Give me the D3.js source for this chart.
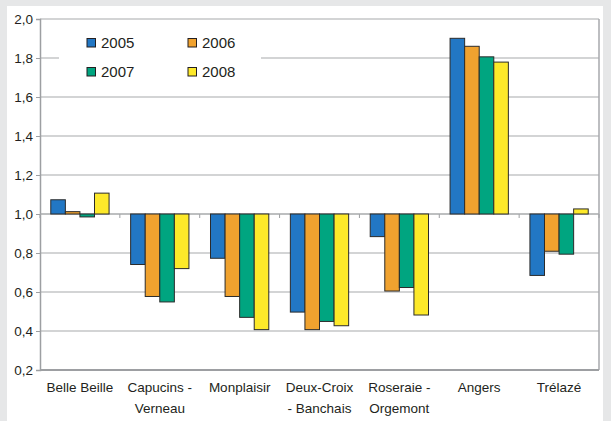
<!DOCTYPE html>
<html>
<head>
<meta charset="utf-8">
<script src="https://cdn.jsdelivr.net/npm/d3@7"></script>
<style>
  body { margin: 0; background: #e6e7e8; }
  svg { display: block; font-family: "Liberation Sans", Arial, sans-serif; }
</style>
</head>
<body>
<div id="chart"></div>
<script>
// quartiers d'Angers, indice par annee (base 1,0)
const categories = [["Belle Beille"], ["Capucins -", "Verneau"], ["Monplaisir"], ["Deux-Croix", "- Banchais"], ["Roseraie -", "Orgemont"], ["Angers"], ["Trélazé"]]
const years = ["2005", "2006", "2007", "2008"]
const colors = ["#2277c4", "#f0a22f", "#00a580", "#fde92a"]

const v2005 = [1.073, 0.741, 0.773, 0.497, 0.884, 1.901, 0.685]
const v2006 = [1.012, 0.577, 0.577, 0.407, 0.605, 1.860, 0.809]
const v2007 = [0.985, 0.549, 0.470, 0.449, 0.623, 1.806, 0.794]
const v2008 = [1.107, 0.720, 0.407, 0.427, 0.482, 1.779, 1.026]
const series = [v2005, v2006, v2007, v2008]

const yTicks = [0.2, 0.4, 0.6, 0.8, 1.0, 1.2, 1.4, 1.6, 1.8, 2.0]
const baseline = 1.0

const width = 611, height = 421
const margin = { top: 19, right: 12, bottom: 51, left: 40 }

const svg = d3.select("#chart").append("svg")
    .attr("width", width)
    .attr("height", height)

// white panel
svg.append("rect")
    .attr("x", 7).attr("y", 6)
    .attr("width", 596).attr("height", height - 6)
    .attr("fill", "#ffffff")

const x = d3.scaleBand()
    .domain(d3.range(categories.length))
    .range([margin.left, width - margin.right])

const xInner = d3.scaleBand()
    .domain(d3.range(years.length))
    .range([0, x.bandwidth()])
    .paddingOuter(0.74)

const y = d3.scaleLinear()
    .domain([0.2, 2.0])
    .range([height - margin.bottom, margin.top])

// gridlines
svg.append("g")
    .selectAll("line")
    .data(yTicks)
    .enter()
    .append("line")
    .attr("x1", margin.left)
    .attr("x2", width - margin.right)
    .attr("y1", d => y(d))
    .attr("y2", d => y(d))
    .attr("stroke", "#a7a9ac")
    .attr("stroke-width", 1.2)

// right border of plot
svg.append("line")
    .attr("x1", width - margin.right).attr("x2", width - margin.right)
    .attr("y1", y(2.0)).attr("y2", y(0.2))
    .attr("stroke", "#a7a9ac").attr("stroke-width", 1.5)

// y axis
const yAxis = d3.axisLeft(y)
    .tickValues(yTicks)
    .tickSize(4)
    .tickPadding(3)
    .tickFormat(d => d3.format(".1f")(d).replace(".", ","))

const gy = svg.append("g")
    .attr("transform", `translate(${margin.left},0)`)
    .call(yAxis)
gy.select(".domain").attr("stroke", "#9d9fa2").attr("stroke-width", 1.5)
gy.selectAll(".tick line").attr("stroke", "#9d9fa2")
gy.selectAll("text").attr("fill", "#231f20").attr("font-size", 13.5)

// bottom border
svg.append("line")
    .attr("x1", margin.left).attr("x2", width - margin.right)
    .attr("y1", y(0.2)).attr("y2", y(0.2))
    .attr("stroke", "#9d9fa2").attr("stroke-width", 2)

// category axis ticks on the 1,0 line
svg.append("g")
    .selectAll("line")
    .data(d3.range(categories.length + 1))
    .enter()
    .append("line")
    .attr("x1", i => i < categories.length ? x(i) : x(i - 1) + x.bandwidth())
    .attr("x2", i => i < categories.length ? x(i) : x(i - 1) + x.bandwidth())
    .attr("y1", y(baseline))
    .attr("y2", y(baseline) + 4)
    .attr("stroke", "#9d9fa2")

// 1,0 line under the bars
svg.append("line")
    .attr("x1", margin.left).attr("x2", width - margin.right)
    .attr("y1", y(baseline)).attr("y2", y(baseline))
    .attr("stroke", "#a7a9ac").attr("stroke-width", 1.2)

// bars
series.forEach((vals, s) => {
    svg.append("g")
        .selectAll("rect")
        .data(vals)
        .enter()
        .append("rect")
        .attr("x", (d, i) => x(i) + xInner(s))
        .attr("width", xInner.bandwidth())
        .attr("y", d => y(Math.max(d, baseline)))
        .attr("height", d => Math.abs(y(d) - y(baseline)))
        .attr("fill", colors[s])
        .attr("stroke", "#2b2b2b")
        .attr("stroke-width", 1)
})

// category labels
const labels = svg.append("g")
    .selectAll("text")
    .data(categories)
    .enter()
    .append("text")
    .attr("x", (d, i) => x(i) + x.bandwidth() / 2)
    .attr("y", 391.5)
    .attr("text-anchor", "middle")
    .attr("font-size", 13.5)
    .attr("fill", "#231f20")

labels.selectAll("tspan")
    .data(d => d)
    .enter()
    .append("tspan")
    .attr("x", function () { return d3.select(this.parentNode).attr("x") })
    .attr("dy", (d, i) => i === 0 ? 0 : 21.5)
    .text(d => d)

// legend
const legend = svg.append("g")
legend.append("rect")
    .attr("x", 59).attr("y", 26)
    .attr("width", 202).attr("height", 62)
    .attr("fill", "#ffffff")

const legendPos = [[87, 43], [188, 43], [87, 72], [188, 72]]
years.forEach((yr, i) => {
    const [lx, ly] = legendPos[i]
    legend.append("rect")
        .attr("x", lx).attr("y", ly - 4.5)
        .attr("width", 8.5).attr("height", 8.5)
        .attr("fill", colors[i])
        .attr("stroke", "#231f20")
        .attr("stroke-width", 1)
    legend.append("text")
        .attr("x", lx + 14)
        .attr("y", ly + 5)
        .attr("font-size", 15)
        .attr("fill", "#231f20")
        .text(yr)
})
</script>
</body>
</html>
